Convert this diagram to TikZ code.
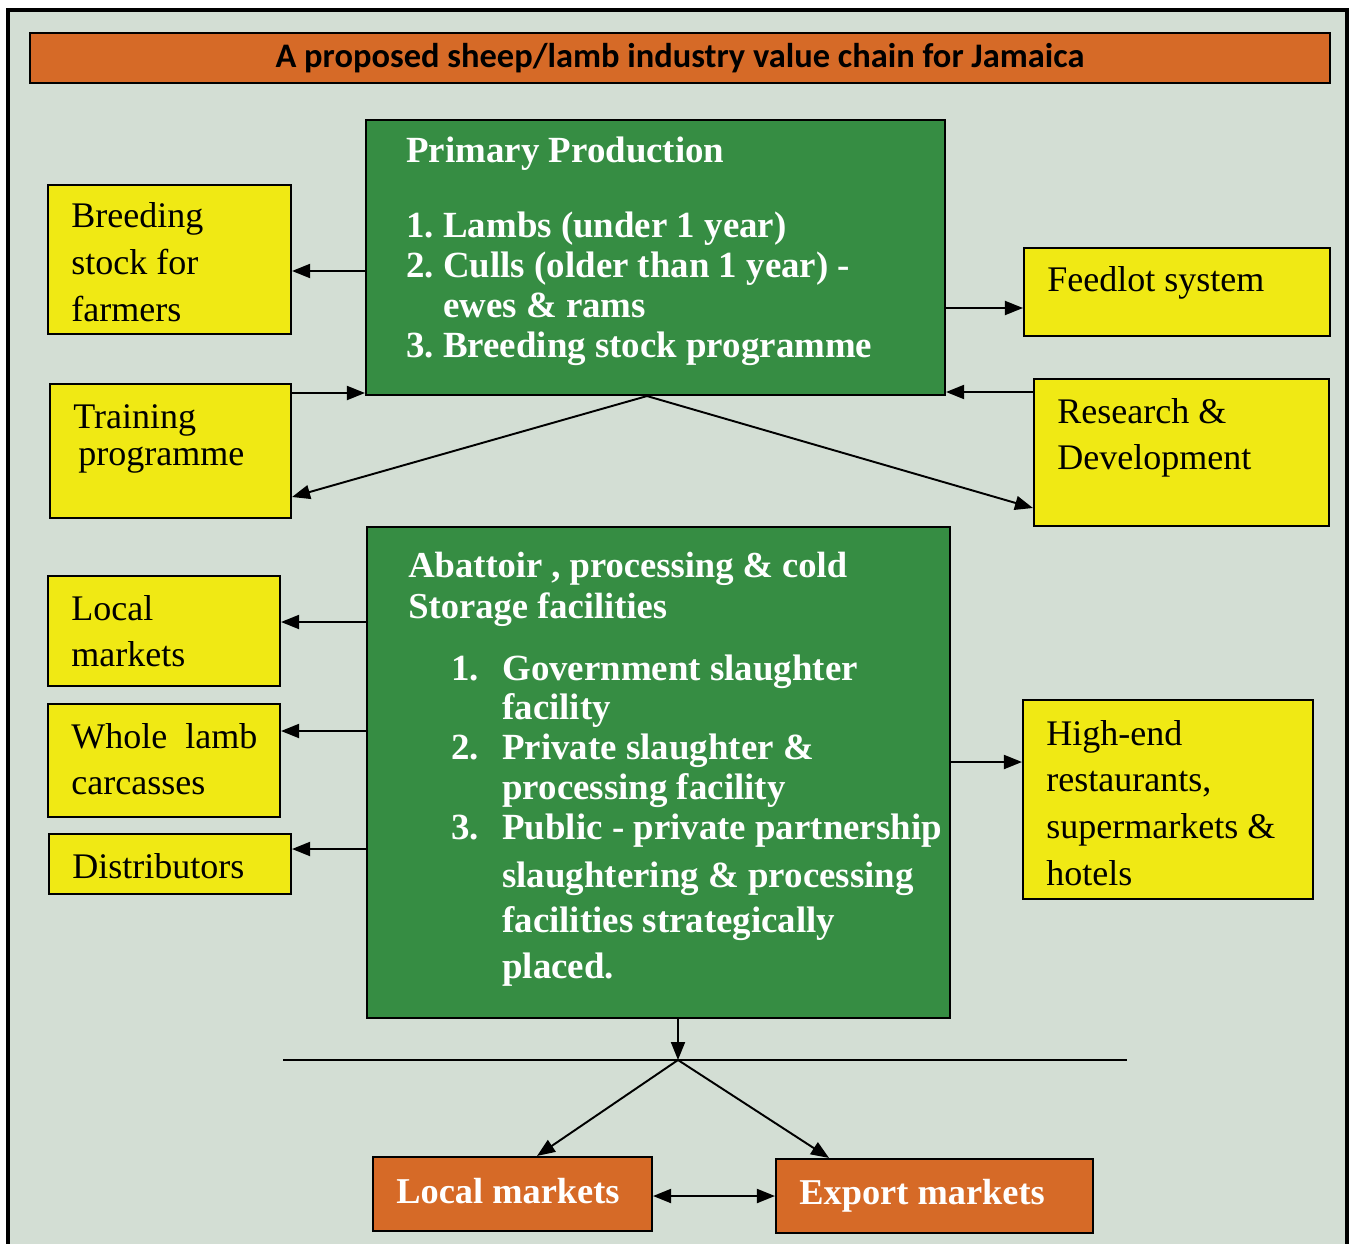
\documentclass[tikz,border=0pt]{standalone}
\usepackage{fontspec}
\setmainfont{Liberation Serif}
\newfontfamily\titlefont{Carlito}
\usetikzlibrary{arrows.meta,fit,positioning}

\definecolor{bgcol}{RGB}{211,222,212}
\definecolor{boxgreen}{RGB}{54,141,67}
\definecolor{boxyellow}{RGB}{240,233,20}
\definecolor{boxorange}{RGB}{214,106,39}
\frenchspacing

\begin{document}
\begin{tikzpicture}[x=0.02cm,y=-0.02cm]
\def\boxlw{1.2pt}; %border of the boxes
\def\edgewidth{1.1pt}; %width of the connectors
\def\tiplen{0.36cm}; %arrow head length
\def\tipwid{0.28cm}; %arrow head width

\tikzstyle{ybox} = [rectangle, draw, line width=\boxlw, fill=boxyellow, inner sep=0mm]
\tikzstyle{gbox} = [rectangle, draw, line width=\boxlw, fill=boxgreen, inner sep=0mm]
\tikzstyle{obox} = [rectangle, draw, line width=\boxlw, fill=boxorange, inner sep=0mm]
\tikzstyle{ytext} = [anchor=base west, inner sep=0mm, text width=8cm, align=flush left, font=\fontsize{20.5}{26.6}\selectfont]
\tikzstyle{gtext} = [anchor=base west, inner sep=0mm, text width=12cm, align=flush left, text=white, font=\bfseries\fontsize{21}{22.7}\selectfont]
\tikzstyle{otext} = [anchor=base west, inner sep=0mm, text=white, font=\bfseries\fontsize{20.7}{24}\selectfont]
\tikzstyle{arr} = [-{Triangle[length=\tiplen,width=\tipwid]}, line width=\edgewidth]
\tikzstyle{darr} = [{Triangle[length=\tiplen,width=\tipwid]}-{Triangle[length=\tiplen,width=\tipwid]}, line width=\edgewidth]

\useasboundingbox (0,0) rectangle (1351,1243);
\clip (0,0) rectangle (1351,1243);
\draw[line width=0.09cm, fill=bgcol] (8,10) rectangle (1347,1262);

%title bar
\node[obox, fit={(30,33) (1330,83)}] (title) {};
\node[inner sep=0mm, font=\titlefont\bfseries\fontsize{19.6}{22}\selectfont] (titletxt) at (title.center) {A proposed sheep/lamb industry value chain for Jamaica};

%green boxes
\node[gbox, fit={(366,120) (945,395)}] (prim) {};
\node[gbox, fit={(367,527) (950,1018)}] (abat) {};

\node[gtext] (primtxt) at (406,163) {Primary Production\\[19.8pt]
1. Lambs (under 1 year)\\
2. Culls (older than 1 year) -\\
\phantom{2. }ewes \& rams\\
3. Breeding stock programme};

\node[gtext, font=\bfseries\fontsize{20.8}{23.8}\selectfont] (abattxt) at (408,577) {Abattoir , processing \& cold\\
Storage facilities};
\node[anchor=base west, inner sep=0mm, text=white, font=\bfseries\fontsize{21}{22.7}\selectfont] (abatlist) at (451,680)
{\begin{tabular}[t]{@{}p{1.02cm}@{}l@{}}
1. & Government slaughter\\
   & facility\\
2. & Private slaughter \&\\
   & processing facility\\
3. & Public - private partnership\\[4.5pt]
   & slaughtering \& processing\\[3pt]
   & facilities strategically\\[3.4pt]
   & placed.
\end{tabular}};

%yellow boxes, left
\node[ybox, fit={(48,185) (291,334)}] (breed) {};
\node[ybox, fit={(50,384) (291,518)}] (train) {};
\node[ybox, fit={(48,576) (280,686)}] (lmkt) {};
\node[ybox, fit={(48,704) (280,817)}] (whole) {};
\node[ybox, fit={(49,834) (291,894)}] (dist) {};

%yellow boxes, right
\node[ybox, fit={(1024,248) (1330,336)}] (feed) {};
\node[ybox, fit={(1034,379) (1329,526)}] (res) {};
\node[ybox, fit={(1023,700) (1313,899)}] (high) {};

\node[ytext] (breedtxt) at (71,228) {Breeding\\stock for\\farmers};
\node[ytext] (traintxt) at (73,428) {Training\\[-5.1pt]\hspace*{0.1cm}programme};
\node[ytext] (lmkttxt) at (71,620) {Local\\markets};
\node[ytext] (wholetxt) at (71,748) {Whole\ \ lamb\\carcasses};
\node[ytext] (disttxt) at (72,878) {Distributors};
\node[ytext] (feedtxt) at (1047,292) {Feedlot system};
\node[ytext] (restxt) at (1057,423) {Research \&\\Development};
\node[ytext] (hightxt) at (1046,745) {High-end\\restaurants,\\supermarkets \&\\hotels};

%orange boxes, bottom
\node[obox, fit={(373,1157) (652,1231)}] (lmk) {};
\node[obox, fit={(776,1159) (1093,1233)}] (emk) {};
\node[otext] (lmktxt) at (396,1203) {Local markets};
\node[otext] (emktxt) at (799,1204) {Export markets};

%split line
\coordinate (hl) at (283,1060);
\coordinate (hr) at (1127,1060);
\coordinate (hm) at (678,1060);
\draw[line width=1.4pt] (hl) -- (hr);

%connectors
\draw[arr] (prim.west |- 0,271) -- (breed.east |- 0,271);
\draw[arr] (train.east |- 0,393) -- (prim.west |- 0,393);
\draw[arr] (prim.east |- 0,308) -- (feed.west |- 0,308);
\draw[arr] (res.west |- 0,392) -- (prim.east |- 0,392);
\draw[arr] (prim.south -| 647,0) -- (train.east |- 0,497);
\draw[arr] (prim.south -| 647,0) -- (res.west |- 0,508);

\foreach \tgt/\yy in {lmkt/622, whole/731, dist/849}{
\draw[arr] (abat.west |- 0,\yy) -- (\tgt.east |- 0,\yy);
}
\draw[arr] (abat.east |- 0,762) -- (high.west |- 0,762);

\draw[arr] (hm |- abat.south) -- (hm);
\draw[arr] (hm) -- (lmk.north -| 537,0);
\draw[arr] (hm) -- (emk.north -| 829,0);
\draw[darr] (lmk.east |- 0,1196) -- (emk.west |- 0,1196);

\end{tikzpicture}
\end{document}
